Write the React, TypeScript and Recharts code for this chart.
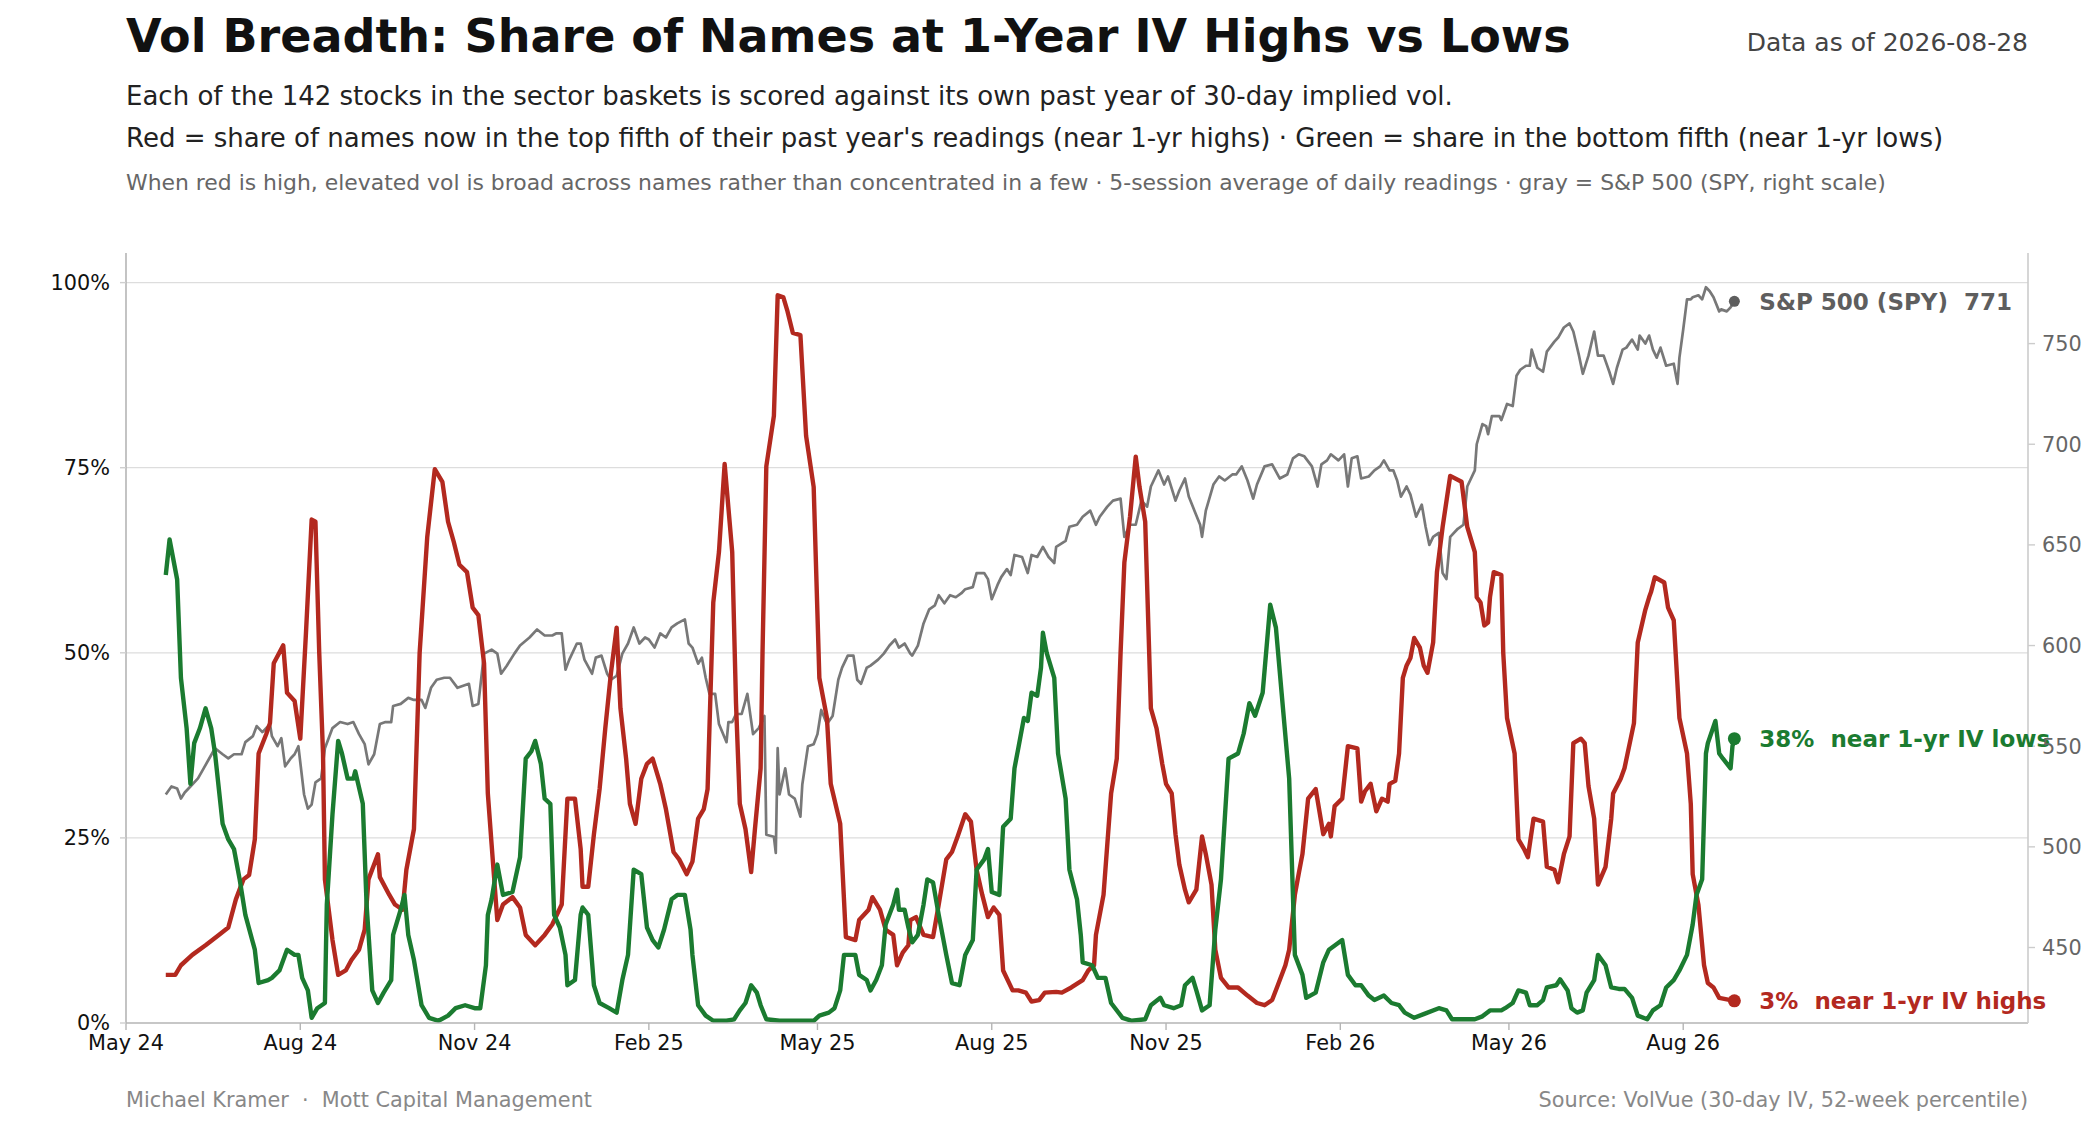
import { Line, LineChart, ReferenceLine, XAxis, YAxis } from "recharts";

// x values are calendar days since START
const START = "2024-05-01";
const X_END = "2027-01-30";
const AS_OF = "2026-08-28";

// share of names in the top fifth of their 1-yr IV range (%)
const NEAR_HIGHS: [number, number][] = [
  [21, 6.5], [26, 6.5], [29, 7.8], [35, 9.2], [42, 10.5], [49, 11.9], [54, 12.9], [58, 16.7], [62, 19.4], [65, 20],
  [68, 24.8], [70, 36.4], [74, 39], [76, 40.5], [78, 48.6], [83, 51], [85, 44.6], [89, 43.5], [92, 38.4], [95, 52.7],
  [98, 68], [100, 67.7], [102, 50], [104, 36.4], [105, 19.4], [109, 11.2], [112, 6.5], [116, 7.1], [119, 8.5], [123, 9.9],
  [126, 12.6], [128, 19.4], [133, 22.8], [134, 19.7], [139, 17.3], [142, 16], [146, 15.3], [148, 20.7], [152, 26.2], [155, 50],
  [159, 65.6], [163, 74.8], [167, 73.1], [170, 67.7], [173, 65], [176, 61.9], [180, 60.9], [183, 56.1], [186, 55.1], [189, 48.6],
  [191, 31], [193, 24.1], [196, 13.9], [199, 16], [204, 17], [208, 15.6], [211, 11.9], [216, 10.5], [221, 11.9],
  [225, 13.3], [230, 16], [233, 30.3], [237, 30.3], [240, 23.5], [241, 18.4], [244, 18.4], [247, 25.5], [250, 31.6], [253, 39.8],
  [256, 47.3], [259, 53.4], [261, 42.5], [264, 35.7], [266, 29.6], [269, 26.9], [272, 33], [275, 35], [278, 35.7], [282, 32.3],
  [285, 28.9], [289, 23.1], [292, 22.1], [296, 20.1], [299, 21.8], [302, 27.6], [305, 28.9], [307, 31.6], [310, 56.8], [313, 63.6],
  [316, 75.5], [320, 63.6], [322, 43.2], [324, 29.6], [327, 26.2], [330, 20.4], [332, 26.2], [335, 34.4], [336, 50], [338, 75.2],
  [342, 82], [344, 98.3], [347, 98], [349, 96.3], [352, 93.2], [356, 92.9], [359, 79.3], [363, 72.4], [366, 46.6], [370, 41.2],
  [372, 32.3], [377, 26.9], [380, 11.6], [385, 11.2], [387, 13.9], [392, 15.3], [394, 17], [398, 15.3], [401, 12.6], [405, 11.9],
  [407, 7.8], [410, 9.5], [413, 10.5], [414, 13.9], [417, 14.3], [421, 11.9], [426, 11.6], [429, 16], [433, 22.1], [436, 23.1],
  [439, 25.2], [443, 28.2], [446, 27.2], [449, 20.7], [452, 17.3], [455, 14.3], [458, 15.6], [461, 14.6], [463, 7.1], [468, 4.4],
  [471, 4.4], [475, 4.1], [478, 2.9], [482, 3.1], [485, 4.1], [491, 4.2], [494, 4.1], [499, 4.8], [505, 5.8], [508, 7.1],
  [511, 7.8], [512, 11.9], [516, 17.3], [520, 31], [523, 35.7], [525, 50], [527, 62.2], [530, 68.4], [533, 76.5], [535, 72.4],
  [538, 67.7], [541, 42.5], [544, 39.8], [547, 35], [549, 32.3], [552, 31], [554, 25.5], [556, 21.4], [559, 18], [561, 16.3],
  [565, 18], [568, 25.2], [570, 22.8], [573, 18.7], [575, 9.9], [578, 6.1], [582, 4.8], [587, 4.8], [592, 3.7], [597, 2.7],
  [601, 2.4], [605, 3.1], [608, 5.1], [612, 7.8], [614, 9.9], [617, 17.3], [619, 20.1], [621, 22.8], [624, 30.3], [628, 31.6],
  [632, 25.5], [635, 26.9], [636, 25.2], [638, 29.3], [642, 30.3], [645, 37.4], [650, 37.1], [652, 29.9], [654, 31.3], [657, 32.3],
  [660, 28.6], [663, 30.3], [666, 29.9], [667, 32.3], [670, 32.7], [672, 36.4], [674, 46.6], [676, 48.3], [678, 49.3], [680, 52],
  [683, 50.7], [685, 48.3], [687, 47.3], [690, 51.4], [692, 60.9], [695, 67], [699, 73.9], [705, 73.1], [708, 67], [712, 63.6],
  [713, 57.5], [715, 56.8], [717, 53.7], [719, 54.1], [720, 57.5], [722, 60.9], [726, 60.5], [727, 50], [729, 41.2], [733, 36.4],
  [735, 24.8], [738, 23.5], [740, 22.4], [743, 27.6], [748, 27.2], [750, 21.1], [754, 20.7], [756, 19], [759, 22.8], [762, 25.2],
  [764, 37.8], [768, 38.4], [770, 37.8], [772, 32], [775, 27.6], [777, 18.7], [781, 21.1], [784, 27.6], [785, 31], [789, 33],
  [791, 34.4], [796, 40.5], [798, 51.4], [802, 55.8], [804, 57.5], [805, 58.2], [807, 60.2], [812, 59.5], [814, 56.1], [817, 54.4],
  [820, 41.2], [824, 36.4], [826, 29.6], [827, 20.1], [830, 16], [833, 7.8], [835, 5.4], [838, 4.8], [841, 3.4], [845, 3.2],
  [849, 3],
];

// share of names in the bottom fifth (%)
const NEAR_LOWS: [number, number][] = [
  [21, 60.5], [23, 65.3], [27, 59.9], [29, 46.6], [32, 39.8], [34, 32.3], [36, 37.8], [39, 39.8], [42, 42.5], [45, 39.8],
  [47, 36.4], [51, 26.9], [54, 24.8], [57, 23.5], [60, 19.4], [63, 14.6], [68, 9.9], [70, 5.4], [75, 5.8], [77, 6.1],
  [81, 7.1], [85, 9.9], [89, 9.2], [91, 9.2], [93, 6.1], [96, 4.4], [98, 0.7], [101, 2], [105, 2.7], [106, 16],
  [109, 28.2], [112, 38.1], [114, 36.4], [117, 33], [120, 33], [121, 34], [125, 29.6], [127, 16], [130, 4.4], [133, 2.7],
  [136, 4.1], [140, 5.8], [141, 11.9], [145, 15.3], [147, 17.3], [149, 11.9], [152, 8.5], [156, 2.4], [160, 0.7], [165, 0.3],
  [170, 1], [174, 2], [179, 2.4], [184, 2], [187, 2], [190, 7.8], [191, 14.6], [193, 16.7], [196, 21.4], [199, 17.3],
  [204, 17.7], [208, 22.4], [211, 35.7], [214, 36.7], [216, 38.1], [219, 35], [221, 30.3], [224, 29.6], [226, 14.6], [229, 12.9],
  [232, 9.2], [233, 5.1], [237, 5.8], [240, 14.6], [241, 15.6], [244, 14.6], [247, 5.1], [250, 2.7], [255, 2], [259, 1.4],
  [262, 5.8], [265, 9.2], [268, 20.7], [272, 20.1], [275, 12.9], [278, 11.2], [281, 10.2], [284, 12.6], [288, 16.7], [291, 17.3],
  [295, 17.3], [298, 12.6], [299, 9.2], [302, 2.4], [306, 1], [310, 0.3], [317, 0.3], [321, 0.5], [324, 1.7], [327, 2.7],
  [330, 5.1], [333, 4.1], [335, 2.4], [338, 0.5], [345, 0.3], [363, 0.3], [366, 1], [371, 1.4], [374, 2], [377, 4.4],
  [379, 9.2], [382, 9.2], [385, 9.2], [387, 6.5], [391, 5.8], [393, 4.4], [396, 5.8], [399, 7.8], [401, 13.3], [405, 16],
  [407, 18], [408, 15.3], [411, 15.3], [413, 12.9], [415, 10.9], [418, 11.9], [421, 16], [423, 19.4], [426, 19], [429, 14.6],
  [433, 9.2], [436, 5.4], [440, 5.1], [443, 9.2], [447, 11.2], [449, 20.7], [453, 22.1], [455, 23.5], [457, 17.7], [461, 17.3],
  [463, 26.5], [467, 27.6], [469, 34.4], [471, 37.1], [474, 41.2], [476, 40.8], [478, 44.6], [481, 44.2], [483, 48], [484, 52.7],
  [486, 50], [490, 46.6], [492, 36.4], [496, 30.3], [498, 20.7], [502, 16.7], [504, 11.9], [505, 8.2], [510, 7.8], [513, 6.1],
  [517, 6.1], [520, 2.7], [526, 0.7], [531, 0.3], [538, 0.5], [541, 2.4], [546, 3.4], [548, 2.4], [553, 2], [557, 2.4],
  [559, 5.1], [563, 6.1], [565, 4.4], [568, 1.7], [572, 2.4], [575, 12.6], [578, 19.4], [582, 35.7], [587, 36.4], [590, 39.1],
  [593, 43.2], [596, 41.5], [600, 44.6], [604, 56.5], [607, 53.4], [610, 44.6], [614, 33], [617, 9.2], [621, 6.5], [623, 3.4],
  [628, 4.1], [632, 8.2], [635, 9.9], [642, 11.2], [645, 6.5], [649, 5.1], [652, 5.1], [656, 3.7], [659, 3.1], [664, 3.7],
  [668, 2.7], [672, 2.4], [675, 1.4], [680, 0.7], [685, 1.2], [693, 2], [697, 1.7], [700, 0.5], [706, 0.5], [712, 0.5],
  [716, 0.9], [720, 1.7], [726, 1.7], [728, 2], [732, 2.7], [735, 4.4], [739, 4.1], [741, 2.4], [745, 2.4], [748, 3.1],
  [750, 4.8], [755, 5.1], [757, 5.9], [761, 4.4], [763, 2], [766, 1.4], [769, 1.7], [771, 4.1], [775, 5.8], [777, 9.2],
  [781, 7.8], [784, 4.8], [788, 4.6], [791, 4.6], [795, 3.4], [798, 1], [803, 0.5], [806, 1.7], [810, 2.4], [813, 4.8],
  [817, 5.8], [820, 7.1], [824, 9.2], [827, 13.3], [829, 17.3], [832, 19.4], [834, 36.4], [835, 37.8], [839, 40.8], [841, 36.4],
  [843, 35.7], [847, 34.4], [848, 37.4], [849, 38.4],
];

// SPY close, right scale
const SPY: [number, number][] = [
  [21, 526], [24, 530], [27, 529], [29, 524], [31, 527], [34, 530], [38, 534], [41, 539], [44, 544], [47, 549],
  [51, 546], [54, 544], [57, 546], [61, 546], [63, 552], [67, 555], [69, 560], [72, 557], [76, 561], [77, 555],
  [80, 550], [82, 554], [84, 540], [87, 544], [89, 546], [91, 550], [94, 526], [96, 519], [98, 521], [100, 532],
  [103, 534], [105, 549], [109, 559], [113, 562], [117, 561], [120, 562], [123, 556], [126, 551], [128, 541], [131, 546],
  [134, 561], [137, 562], [140, 562], [141, 570], [145, 571], [149, 574], [152, 573], [156, 573], [158, 569], [161, 579],
  [164, 583], [168, 584], [171, 584], [175, 579], [178, 580], [181, 581], [183, 570], [186, 571], [189, 596], [193, 598],
  [196, 596], [198, 586], [201, 590], [205, 596], [208, 600], [213, 604], [217, 608], [221, 605], [225, 605], [227, 606],
  [230, 606], [232, 588], [234, 593], [238, 601], [240, 601], [242, 593], [246, 586], [248, 594], [251, 595], [254, 586],
  [256, 583], [259, 585], [262, 596], [265, 601], [268, 609], [271, 601], [274, 604], [276, 603], [279, 599], [282, 606],
  [285, 604], [288, 609], [291, 611], [295, 613], [297, 601], [299, 599], [302, 591], [304, 594], [306, 584], [308, 576],
  [311, 576], [313, 561], [317, 552], [318, 562], [320, 562], [322, 566], [325, 566], [328, 576], [331, 556], [334, 559],
  [337, 565], [338, 506], [342, 505], [343, 497], [344, 549], [345, 526], [348, 539], [350, 526], [353, 524], [356, 515],
  [357, 531], [360, 550], [363, 551], [365, 556], [367, 568], [370, 561], [373, 565], [376, 583], [378, 589], [381, 595],
  [384, 595], [386, 583], [388, 581], [391, 589], [393, 590], [397, 593], [400, 596], [403, 600], [406, 603], [408, 599],
  [411, 601], [414, 596], [415, 595], [418, 600], [421, 611], [424, 618], [427, 620], [429, 625], [432, 621], [435, 625],
  [438, 624], [441, 626], [443, 628], [447, 629], [449, 636], [453, 636], [455, 633], [457, 623], [460, 630], [462, 634],
  [465, 638], [467, 635], [469, 645], [473, 644], [476, 636], [478, 645], [481, 644], [484, 649], [487, 644], [490, 641],
  [491, 649], [496, 652], [498, 659], [502, 660], [505, 664], [509, 667], [512, 660], [514, 664], [518, 669], [521, 672],
  [525, 673], [527, 654], [530, 660], [533, 660], [534, 664], [536, 672], [539, 669], [541, 679], [545, 687], [548, 680],
  [550, 684], [554, 672], [556, 677], [559, 683], [561, 674], [564, 667], [567, 660], [568, 654], [570, 667], [574, 680],
  [577, 684], [580, 682], [584, 685], [586, 685], [589, 689], [592, 682], [595, 673], [597, 680], [601, 689], [605, 690],
  [609, 683], [613, 685], [616, 693], [619, 695], [622, 694], [626, 689], [629, 679], [631, 690], [634, 692], [636, 695],
  [640, 692], [643, 695], [645, 679], [647, 693], [650, 694], [652, 683], [656, 684], [659, 687], [662, 689], [664, 692],
  [667, 687], [669, 687], [671, 682], [673, 674], [676, 679], [678, 675], [681, 664], [684, 670], [686, 659], [688, 650],
  [690, 654], [693, 656], [695, 636], [697, 633], [699, 654], [703, 658], [706, 660], [708, 679], [712, 687], [713, 700],
  [716, 710], [718, 709], [719, 705], [721, 714], [725, 714], [726, 712], [729, 720], [732, 719], [734, 734], [736, 737],
  [739, 739], [741, 739], [742, 747], [745, 738], [748, 736], [750, 746], [754, 751], [756, 753], [759, 758], [762, 760],
  [764, 756], [767, 744], [769, 735], [772, 744], [775, 756], [777, 744], [780, 744], [783, 736], [785, 730], [787, 738],
  [790, 747], [792, 748], [795, 752], [798, 747], [799, 754], [802, 750], [804, 754], [806, 747], [808, 743], [810, 748],
  [813, 739], [817, 740], [819, 730], [820, 743], [822, 757], [824, 772], [826, 772], [827, 773], [830, 774], [832, 772],
  [834, 778], [836, 776], [838, 773], [841, 766], [842, 767], [845, 766], [847, 768], [849, 771],
];

const TICK_DATES = [
  "2024-05-01", "2024-08-01", "2024-11-01", "2025-02-01", "2025-05-01",
  "2025-08-01", "2025-11-01", "2026-02-01", "2026-05-01", "2026-08-01",
];
const TICK_LABELS = ["May 24", "Aug 24", "Nov 24", "Feb 25", "May 25", "Aug 25", "Nov 25", "Feb 26", "May 26", "Aug 26"];
const PCT_TICKS = [0, 25, 50, 75, 100];
const SPY_TICKS = [450, 500, 550, 600, 650, 700, 750];

const RED = "#b3291f";
const GREEN = "#1b7b30";
const GRAY = "#787878";
const GRAY_DARK = "#5e5e5e";
const FONT = "DejaVu Sans";
const GAP = "\u00a0\u00a0";

const DAY_MS = 86400000;
const toDay = (iso: string) => (Date.parse(iso) - Date.parse(START)) / DAY_MS;
const xTicks = TICK_DATES.map(toDay);

const rows = (pts: [number, number][]) => pts.map(([t, v]) => ({ t, v }));

function endMarker(n: number, color: string, r: number, label: string) {
  return (props: any) => {
    const { cx, cy, index } = props;
    if (index !== n - 1) return <g key={`d${index}`} />;
    return (
      <g key={`d${index}`}>
        <circle cx={cx} cy={cy} r={r} fill={color} />
        <text x={cx + 25} y={cy} dy="0.36em" fontFamily={FONT} fontSize={23} fontWeight="bold" fill={color}>
          {label}
        </text>
      </g>
    );
  };
}

export default function App() {
  const lastHigh = NEAR_HIGHS[NEAR_HIGHS.length - 1][1];
  const lastLow = NEAR_LOWS[NEAR_LOWS.length - 1][1];
  const lastSpy = SPY[SPY.length - 1][1];

  return (
    <div style={{ position: "absolute", left: 0, top: 0, width: 2100, height: 1125, background: "#fff" }}>
      <LineChart width={2100} height={1125} margin={{ top: 253, right: 12, bottom: 62, left: 36 }}>
        <XAxis
          type="number"
          dataKey="t"
          domain={[0, toDay(X_END)]}
          ticks={xTicks}
          interval={0}
          tickFormatter={(v) => TICK_LABELS[xTicks.indexOf(v)] ?? ""}
          height={40}
          axisLine={{ stroke: "#b5b5b5", strokeWidth: 1.6 }}
          tickLine={{ stroke: "#b5b5b5", strokeWidth: 1.4 }}
          tickSize={7}
          tickMargin={5}
          tick={{ fontSize: 20.8, fill: "#111", fontFamily: FONT }}
        />
        <YAxis
          yAxisId="pct"
          domain={[0, 104]}
          ticks={PCT_TICKS}
          interval={0}
          width={90}
          tickFormatter={(v) => `${v}%`}
          axisLine={{ stroke: "#b5b5b5", strokeWidth: 1.6 }}
          tickLine={{ stroke: "#cfcfcf", strokeWidth: 1.4 }}
          tickSize={6}
          tickMargin={10}
          tick={{ fontSize: 20.8, fill: "#111", fontFamily: FONT }}
        />
        <YAxis
          yAxisId="spy"
          orientation="right"
          domain={[412.5, 795]}
          ticks={SPY_TICKS}
          interval={0}
          width={60}
          axisLine={{ stroke: "#cccccc", strokeWidth: 1.6 }}
          tickLine={{ stroke: "#cccccc", strokeWidth: 1.4 }}
          tickSize={7}
          tickMargin={7}
          tick={{ fontSize: 20.8, fill: "#666", fontFamily: FONT }}
        />
        {PCT_TICKS.filter((v) => v > 0).map((v) => (
          <ReferenceLine key={v} yAxisId="pct" y={v} stroke="#dddddd" strokeWidth={1.3} />
        ))}
        <Line
          yAxisId="spy"
          data={rows(SPY)}
          dataKey="v"
          stroke={GRAY}
          strokeWidth={2.7}
          strokeLinejoin="round"
          dot={endMarker(SPY.length, GRAY_DARK, 5.5, `S&P 500 (SPY)${GAP}${lastSpy}`)}
          activeDot={false}
          isAnimationActive={false}
        />
        <Line
          yAxisId="pct"
          data={rows(NEAR_HIGHS)}
          dataKey="v"
          stroke={RED}
          strokeWidth={4.4}
          strokeLinejoin="round"
          dot={endMarker(NEAR_HIGHS.length, RED, 6.5, `${Math.round(lastHigh)}%${GAP}near 1-yr IV highs`)}
          activeDot={false}
          isAnimationActive={false}
        />
        <Line
          yAxisId="pct"
          data={rows(NEAR_LOWS)}
          dataKey="v"
          stroke={GREEN}
          strokeWidth={4.4}
          strokeLinejoin="round"
          dot={endMarker(NEAR_LOWS.length, GREEN, 6.5, `${Math.round(lastLow)}%${GAP}near 1-yr IV lows`)}
          activeDot={false}
          isAnimationActive={false}
        />
      </LineChart>

      <svg
        width={2100}
        height={1125}
        style={{ position: "absolute", left: 0, top: 0, pointerEvents: "none" }}
        fontFamily={FONT}
      >
        <text x={126} y={52} fontSize={46} fontWeight="bold" fill="#111">
          Vol Breadth: Share of Names at 1-Year IV Highs vs Lows
        </text>
        <text x={2028} y={51} fontSize={25} fill="#444" textAnchor="end">
          {`Data as of ${AS_OF}`}
        </text>
        <text x={126} y={105} fontSize={26} fill="#222">
          Each of the 142 stocks in the sector baskets is scored against its own past year of 30-day implied vol.
        </text>
        <text x={126} y={147} fontSize={26} fill="#222">
          {"Red = share of names now in the top fifth of their past year's readings (near 1-yr highs) · Green = share in the bottom fifth (near 1-yr lows)"}
        </text>
        <text x={126} y={190} fontSize={21.9} fill="#666">
          {"When red is high, elevated vol is broad across names rather than concentrated in a few · 5-session average of daily readings · gray = S&P 500 (SPY, right scale)"}
        </text>
        <text x={126} y={1107} fontSize={20.8} fill="#888">
          {`Michael Kramer${GAP}·${GAP}Mott Capital Management`}
        </text>
        <text x={2028} y={1107} fontSize={20.8} fill="#888" textAnchor="end">
          Source: VolVue (30-day IV, 52-week percentile)
        </text>
      </svg>
    </div>
  );
}
